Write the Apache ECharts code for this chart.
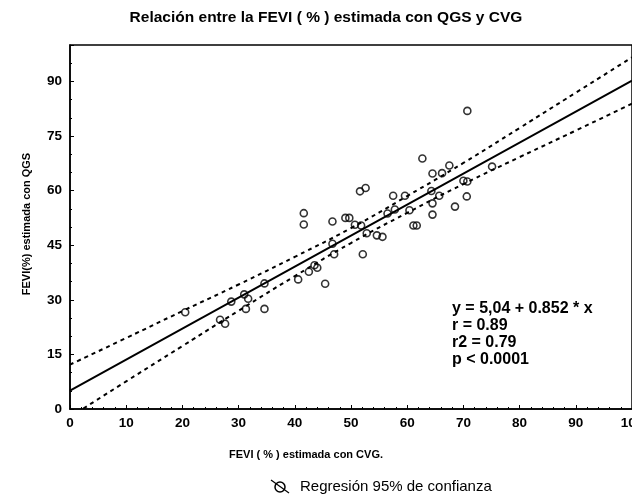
<!DOCTYPE html>
<html>
<head>
<meta charset="utf-8">
<script src="https://cdn.jsdelivr.net/npm/echarts@6/dist/echarts.min.js"></script>
<style>
  html, body { margin: 0; padding: 0; background: #fff; }
  #chart { width: 632px; height: 504px; }
</style>
</head>
<body>
<div id="chart"></div>
<script>
// FEVI (%) por CVG (x) y por QGS (y)
const pointsX = [20.5, 26.7, 27.6, 28.7, 31.0, 31.7, 31.3, 34.6, 34.6, 40.6,
  41.6, 41.6, 42.5, 43.5, 44.0, 45.4, 46.7, 46.7, 47.0, 49.0,
  49.7, 50.7, 51.8, 52.8, 54.6, 55.6, 52.1, 51.6, 52.6, 56.5,
  57.8, 57.5, 59.6, 60.4, 61.1, 61.7, 64.5, 64.5, 64.3, 65.7,
  62.7, 64.5, 66.2, 67.5, 68.5, 70.0, 70.7, 70.6, 70.7, 75.1];
const pointsY = [26.6, 24.5, 23.4, 29.5, 31.5, 30.3, 27.5, 34.5, 27.5, 35.6,
  53.8, 50.7, 37.7, 39.5, 38.8, 34.4, 51.5, 45.4, 42.5, 52.5,
  52.5, 50.6, 50.4, 48.3, 47.7, 47.3, 42.5, 59.8, 60.7, 53.7,
  54.8, 58.6, 58.6, 54.6, 50.4, 50.4, 56.5, 53.4, 59.9, 58.6,
  68.8, 64.7, 64.8, 66.9, 55.6, 62.7, 62.5, 58.4, 81.9, 66.6];

// recta de regresión y = 5,04 + 0.852 x
const fitX = [0, 100];
const fitY = [5.04, 90.24];

// bandas de confianza 95%
const bandX = [0, 10, 20, 30, 40, 50, 60, 70, 80, 90, 100];
const bandUpper = [12.2, 19.5, 26.9, 34.2, 41.8, 49.7, 58.5, 67.6, 77.2, 86.9, 96.6];
const bandLower = [-2.2, 7.6, 17.3, 27.0, 36.5, 45.6, 53.9, 61.8, 69.2, 76.5, 83.9];

const statLines = ['y = 5,04 + 0.852 * x', 'r = 0.89', 'r2 = 0.79', 'p < 0.0001'];

const pair = (xs, ys) => xs.map((x, i) => [x, ys[i]]);

const font = '"Liberation Sans", Arial, sans-serif';

const chart = echarts.init(document.getElementById('chart'));

chart.setOption({
  animation: false,
  textStyle: { fontFamily: font, color: '#000' },
  title: {
    text: 'Relación entre la FEVI ( % ) estimada con QGS y CVG',
    left: 321,
    top: 5,
    textAlign: 'center',
    textStyle: { fontSize: 15.5, fontWeight: 'bold', color: '#000', fontFamily: font }
  },
  grid: {
    left: 70, right: 0, top: 45, bottom: 95,
    outerBoundsMode: 'none',
    show: true, borderColor: '#000', borderWidth: 1.5
  },
  xAxis: {
    type: 'value', min: 0, max: 100, interval: 10,
    axisLine: { onZero: false, lineStyle: { color: '#000', width: 1.5 } },
    axisTick: { inside: true, length: 4, lineStyle: { color: '#000' } },
    minorTick: { show: true, splitNumber: 5, length: 2, lineStyle: { color: '#000' } },
    splitLine: { show: false },
    axisLabel: { color: '#000', fontSize: 13.5, fontWeight: 'bold', margin: 7, fontFamily: font }
  },
  yAxis: {
    type: 'value', min: 0, max: 100, interval: 15,
    axisLine: { onZero: false, lineStyle: { color: '#000', width: 1.5 } },
    axisTick: { inside: true, length: 4, lineStyle: { color: '#000' } },
    minorTick: { show: true, splitNumber: 3, length: 2, lineStyle: { color: '#000' } },
    splitLine: { show: false },
    axisLabel: { color: '#000', fontSize: 13.5, fontWeight: 'bold', margin: 8, showMaxLabel: false, fontFamily: font }
  },
  series: [
    {
      type: 'line', data: pair(fitX, fitY), symbol: 'none', clip: true,
      lineStyle: { color: '#000', width: 2 }
    },
    {
      type: 'line', data: pair(bandX, bandUpper), symbol: 'none', smooth: true, clip: true,
      lineStyle: { color: '#000', width: 2, type: [4, 4] }
    },
    {
      type: 'line', data: pair(bandX, bandLower), symbol: 'none', smooth: true, clip: true,
      lineStyle: { color: '#000', width: 2, type: [4, 4] }
    },
    {
      type: 'scatter', data: pair(pointsX, pointsY), symbol: 'circle', symbolSize: 7,
      itemStyle: { color: 'rgba(255,255,255,0)', borderColor: '#000', borderWidth: 1.6 }
    }
  ],
  graphic: [
    {
      type: 'text', left: 452, top: 300,
      style: {
        text: statLines.join('\n'), font: 'bold 16px ' + font, fill: '#000', lineHeight: 17
      }
    },
    {
      type: 'text', x: 306, y: 455,
      style: {
        text: 'FEVI ( % ) estimada con CVG.', font: 'bold 11px ' + font, fill: '#000',
        align: 'center', verticalAlign: 'middle'
      }
    },
    {
      type: 'text', x: 27, y: 224, rotation: Math.PI / 2,
      style: {
        text: 'FEVI(%) estimada con QGS', font: 'bold 11px ' + font, fill: '#000',
        align: 'center', verticalAlign: 'middle'
      }
    },
    {
      type: 'circle', shape: { cx: 280, cy: 487, r: 5 },
      style: { fill: 'none', stroke: '#000', lineWidth: 1.5 }
    },
    {
      type: 'line', shape: { x1: 271, y1: 480, x2: 289, y2: 493 },
      style: { stroke: '#000', lineWidth: 1.2 }
    },
    {
      type: 'text', x: 300, y: 487,
      style: {
        text: 'Regresión 95% de confianza', font: '15px ' + font, fill: '#000',
        verticalAlign: 'middle'
      }
    }
  ]
});
</script>
</body>
</html>
